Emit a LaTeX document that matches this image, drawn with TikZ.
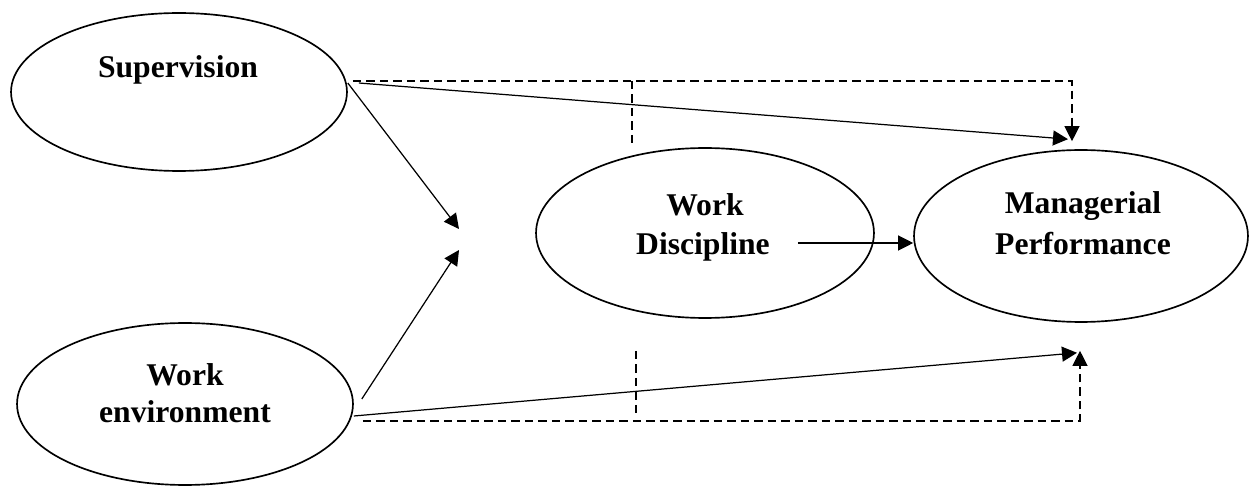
\documentclass[tikz,border=0pt]{standalone}
\usepackage{fontspec}
\setmainfont{Liberation Serif}
\usetikzlibrary{shapes.geometric,arrows.meta}
\begin{document}
\begin{tikzpicture}[x=0.02cm,y=-0.02cm,
  oval/.style={draw,ellipse,line width=0.95pt,inner sep=0pt},
  lbl/.style={font=\bfseries\fontsize{18}{22}\selectfont,anchor=base,inner sep=0pt},
  conn/.style={line width=0.7pt,-{Triangle[length=0.3cm,width=0.3cm]}},
  dconn/.style={line width=0.7pt,dash pattern=on 0.17cm off 0.1cm},
  darr/.style={dconn,-{Triangle[length=0.3cm,width=0.3cm]}}]
\useasboundingbox (0,0) rectangle (1249,486);
% ellipses
\node[oval,minimum width=6.72cm,minimum height=3.16cm] (sup) at (179,92) {};
\node[oval,minimum width=6.72cm,minimum height=3.24cm] (env) at (185,404) {};
\node[oval,minimum width=6.76cm,minimum height=3.40cm] (wd) at (705,233) {};
\node[oval,minimum width=6.68cm,minimum height=3.44cm] (mp) at (1081,236) {};
% labels
\node[lbl] (supT) at (178,78) {Supervision};
\node[lbl] (envA) at (185,386) {Work};
\node[lbl] (envB) at (185,423) {environment};
\node[lbl] (wdA) at (705,216) {Work};
\node[lbl] (wdB) at (703,255) {Discipline};
\node[lbl] (mpA) at (1083,214) {Managerial};
\node[lbl] (mpB) at (1083,255) {Performance};
% free ends
\coordinate (j1) at (459,229);
\coordinate (j2) at (459,250);
\coordinate (s1) at ([shift={(0,-9)}]sup.east);
\coordinate (s2) at ([shift={(11,-9)}]sup.east);
\coordinate (s3) at ([shift={(5,-11)}]sup.east);
\coordinate (e1) at ([shift={(8,-5)}]env.east);
\coordinate (e2) at ([shift={(0,12)}]env.east);
\coordinate (e3) at ([shift={(9,17)}]env.east);
\coordinate (t1) at ([shift={(-13,-10)}]mp.north);
\coordinate (t2) at ([shift={(-9,-8)}]mp.north);
\coordinate (b1) at ([shift={(-4,30)}]mp.south);
\coordinate (b2) at ([shift={(-1,28)}]mp.south);
\coordinate (w1) at ([shift={(-77,10)}]wd.east);
\coordinate (v1) at (632,81);
\coordinate (v1b) at (632,144);
\coordinate (v2) at (636,351);
\coordinate (v2b) at (636,413);
% solid connectors
\draw[conn] (s1) -- (j1);
\draw[conn] (e1) -- (j2);
\draw[conn] (s2) -- (t1);
\draw[conn] (e2) -- (b1);
\draw[conn] (w1) -- (w1 -| mp.west);
% dashed connectors
\draw[darr] (s3) -- (s3 -| t2) -- (t2);
\draw[darr] (e3) -- (e3 -| b2) -- (b2);
\draw[dconn] (v1) -- (v1b);
\draw[dconn] (v2) -- (v2b);
\end{tikzpicture}
\end{document}
